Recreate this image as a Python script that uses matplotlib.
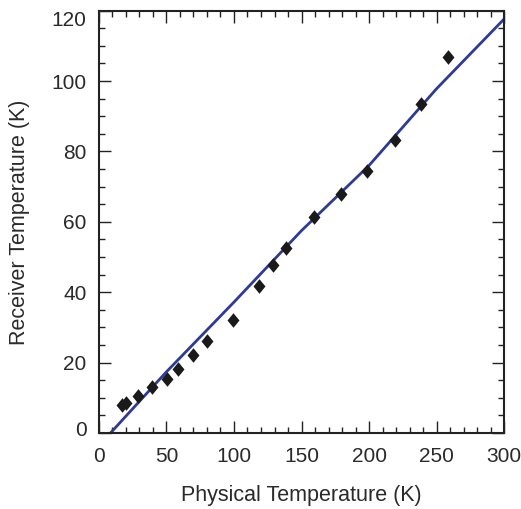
import matplotlib
matplotlib.use("Agg")
import matplotlib.pyplot as plt
from matplotlib.ticker import MultipleLocator
from matplotlib.transforms import ScaledTranslation

plt.rcParams['font.family'] = ['Liberation Sans', 'DejaVu Sans']

# Measured data (diamonds)
phys_temp = [16.8, 20, 29.1, 39, 50.1, 58.8, 69.4, 79.8, 99.5, 118.8,
             129.1, 138.5, 159.3, 179, 198.3, 219.5, 238.5, 258.5]
recv_temp = [7.9, 8.4, 10.5, 13.2, 15.3, 18.2, 22.2, 26.2, 32.1, 41.8,
             47.8, 52.5, 61.5, 67.8, 74.4, 83.2, 93.6, 106.9]

# Model line
line_x = [9, 50, 100, 150, 200, 250, 300]
line_y = [0.2, 17.4, 37.2, 57.5, 76.0, 97.8, 117.6]

fig = plt.figure(figsize=(5.21, 5.09), dpi=100)
ax = fig.add_axes([0.19, 0.1493, 0.7774, 0.8298])

ax.plot(line_x, line_y, color='#2e3a96', lw=2.0, zorder=2)
diamond = [(0, 1), (0.82, 0), (0, -1), (-0.82, 0), (0, 1)]
ax.plot(phys_temp, recv_temp, linestyle='none', marker=diamond,
        markersize=10.5, color='#1a1a1a', markeredgewidth=0, zorder=3)

ax.set_xlim(0, 300)
ax.set_ylim(0, 120)
ax.xaxis.set_major_locator(MultipleLocator(50))
ax.xaxis.set_minor_locator(MultipleLocator(10))
ax.yaxis.set_major_locator(MultipleLocator(20))
ax.yaxis.set_minor_locator(MultipleLocator(5))
ax.tick_params(which='both', direction='in', top=True, right=True,
               width=1.0, color='#222222', labelcolor='#2a2a2a')
ax.tick_params(which='major', length=8.5, labelsize=15)
ax.tick_params(axis='x', which='major', pad=10)
ax.tick_params(axis='y', which='major', pad=9)
ax.tick_params(which='minor', length=4.3)
for s in ax.spines.values():
    s.set_linewidth(1.5)
    s.set_color('#222222')

ax.set_xlabel('Physical Temperature (K)', fontsize=15.5, color='#2a2a2a')
ax.set_ylabel('Receiver Temperature (K)', fontsize=15.5, color='#2a2a2a')
ax.xaxis.set_label_coords(0.5, -0.123)
ax.yaxis.set_label_coords(-0.17, 0.5)

fig.canvas.draw()
for t in ax.yaxis.get_major_ticks():
    loc = t.get_loc()
    if abs(loc - 120) < 1e-6:
        t.label1.set_transform(t.label1.get_transform() +
                               ScaledTranslation(0, -8 / 100, fig.dpi_scale_trans))
    elif abs(loc) < 1e-6:
        t.label1.set_transform(t.label1.get_transform() +
                               ScaledTranslation(0, 5 / 100, fig.dpi_scale_trans))

fig.savefig('out.png', dpi=100)
